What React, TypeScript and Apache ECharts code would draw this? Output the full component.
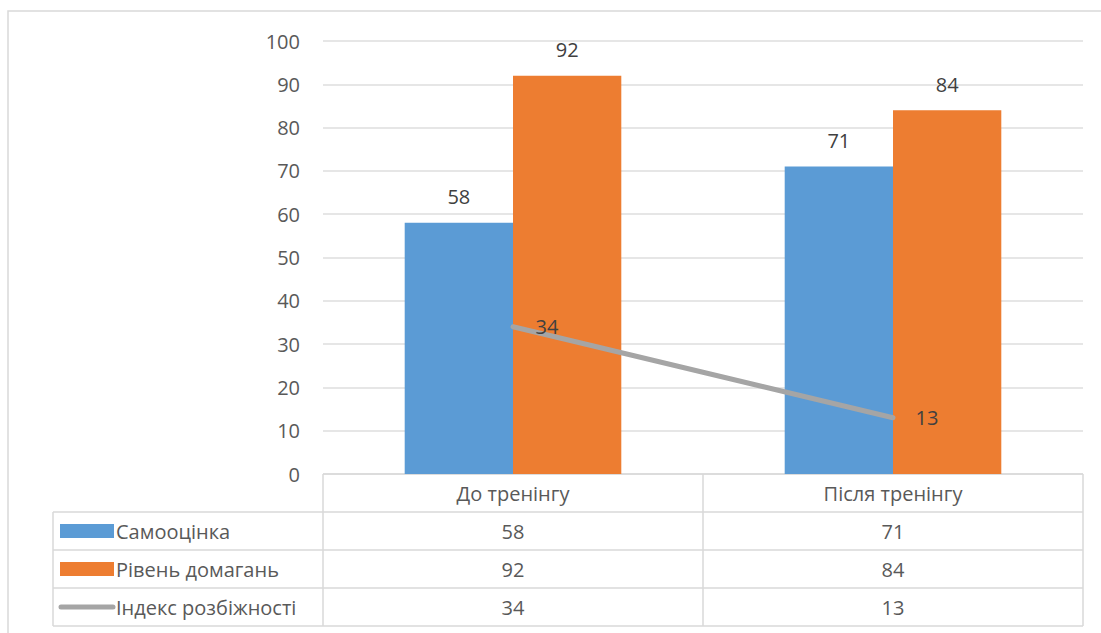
import React, { useEffect, useRef } from "react";
import * as echarts from "echarts";

const categories = ["До тренінгу", "Після тренінгу"];
const seriesNames = ["Самооцінка", "Рівень домагань", "Індекс розбіжності"];
const selfEsteem = [58, 71];
const aspiration = [92, 84];
const discrepancy = [34, 13];
const colors = ["#5b9bd5", "#ed7d31", "#a5a5a5"];

const FONT = "'Open Sans', sans-serif";
const FS = 20;

export default function App() {
  const ref = useRef<HTMLDivElement>(null);
  useEffect(() => {
    if (!ref.current) return;
    const chart = echarts.init(ref.current, undefined, { renderer: "svg" });
    const gridLeft = 323;
    const gridRight = 18;
    const gridTop = 41;
    const gridBottom = 159;
    const option: any = {
      animation: false,
      textStyle: { fontFamily: FONT },
      grid: { left: gridLeft, right: gridRight, top: gridTop, bottom: gridBottom },
      xAxis: {
        type: "category",
        data: categories,
        axisLine: { show: false },
        axisTick: { show: false },
        axisLabel: { show: false },
      },
      yAxis: {
        type: "value",
        min: 0,
        max: 100,
        interval: 10,
        axisLine: { show: false },
        axisTick: { show: false },
        axisLabel: { color: "#595959", fontSize: FS, fontFamily: FONT, margin: 23 },
        splitLine: { lineStyle: { color: "#dedede", width: 1.5 } },
      },
      series: [
        {
          name: seriesNames[0],
          type: "bar",
          data: selfEsteem,
          itemStyle: { color: colors[0] },
          barGap: "0%",
          barCategoryGap: "43%",
          label: { show: true, position: "top", distance: 16, color: "#404040", fontSize: FS, fontFamily: FONT },
        },
        {
          name: seriesNames[1],
          type: "bar",
          data: aspiration,
          itemStyle: { color: colors[1] },
          barGap: "0%",
          barCategoryGap: "43%",
          label: { show: true, position: "top", distance: 16, color: "#404040", fontSize: FS, fontFamily: FONT },
        },
        {
          name: seriesNames[2],
          type: "line",
          data: discrepancy,
          symbol: "circle",
          symbolSize: 1,
          showSymbol: true,
          lineStyle: { color: colors[2], width: 5, cap: "round" },
          itemStyle: { color: colors[2] },
          label: { show: true, position: "right", distance: 22, color: "#404040", fontSize: FS, fontFamily: FONT },
          z: 5,
        },
      ],
    };
    chart.setOption(option);

    // Data table below the plot
    const W = 1101;
    const H = 633;
    const plotL = gridLeft;
    const plotR = W - gridRight;
    const yTop = H - gridBottom;
    const rowH = 38;
    const rowsY = [yTop, yTop + rowH, yTop + 2 * rowH, yTop + 3 * rowH, yTop + 4 * rowH];
    const tableL = 53;
    const colBounds = [plotL];
    const centers = categories.map((c) => chart.convertToPixel({ xAxisIndex: 0 }, c) as number);
    const band = (plotR - plotL) / categories.length;
    for (let i = 1; i <= categories.length; i++) colBounds.push(plotL + band * i);
    const lc = "#d9d9d9";
    const lw = 1.5;
    const g: any[] = [];
    // outer chart border
    g.push({ type: "polyline", shape: { points: [[8, H + 5], [8, 11], [W + 5, 11]] }, style: { stroke: lc, lineWidth: lw, fill: null }, silent: true });
    // horizontal lines
    g.push({ type: "line", shape: { x1: plotL, y1: rowsY[0], x2: plotR, y2: rowsY[0] }, style: { stroke: lc, lineWidth: lw } });
    for (let r = 1; r < rowsY.length; r++) {
      g.push({ type: "line", shape: { x1: tableL, y1: rowsY[r], x2: plotR, y2: rowsY[r] }, style: { stroke: lc, lineWidth: lw } });
    }
    // vertical lines
    g.push({ type: "line", shape: { x1: tableL, y1: rowsY[1], x2: tableL, y2: rowsY[4] }, style: { stroke: lc, lineWidth: lw } });
    colBounds.forEach((x) => {
      g.push({ type: "line", shape: { x1: x, y1: rowsY[0], x2: x, y2: rowsY[4] }, style: { stroke: lc, lineWidth: lw } });
    });
    // header
    categories.forEach((c, i) => {
      g.push({ type: "text", x: centers[i], y: (rowsY[0] + rowsY[1]) / 2, style: { text: c, fill: "#595959", font: `${FS}px ${FONT}`, align: "center", verticalAlign: "middle" } });
    });
    const rows = [selfEsteem, aspiration, discrepancy];
    rows.forEach((vals, r) => {
      const cy = (rowsY[r + 1] + rowsY[r + 2]) / 2;
      if (r < 2) {
        g.push({ type: "rect", shape: { x: 60, y: cy - 7, width: 54, height: 14 }, style: { fill: colors[r] } });
      } else {
        g.push({ type: "line", shape: { x1: 61, y1: cy, x2: 113, y2: cy }, style: { stroke: colors[r], lineWidth: 5, lineCap: "round" } });
      }
      g.push({ type: "text", x: 116, y: cy, style: { text: seriesNames[r], fill: "#595959", font: `${FS}px ${FONT}`, align: "left", verticalAlign: "middle" } });
      vals.forEach((v, i) => {
        g.push({ type: "text", x: centers[i], y: cy, style: { text: String(v), fill: "#595959", font: `${FS}px ${FONT}`, align: "center", verticalAlign: "middle" } });
      });
    });
    chart.setOption({ graphic: { elements: g } });
    return () => chart.dispose();
  }, []);
  return (
    <div
      ref={ref}
      style={{ position: "fixed", left: 0, top: 0, width: 1101, height: 633, background: "#fff" }}
    />
  );
}
